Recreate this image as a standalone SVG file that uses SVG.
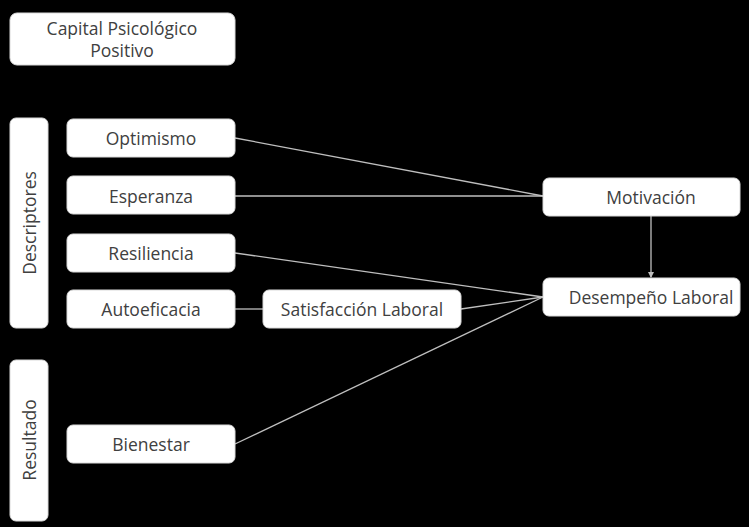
<svg xmlns="http://www.w3.org/2000/svg" width="749" height="527" viewBox="0 0 749 527">
<defs>
<style>
.box{fill:#fff;stroke:#d9d9d9;stroke-width:1}
.t{font-family:"Open Sans","Liberation Sans",Arial,sans-serif;font-size:17.5px;fill:#404040;text-anchor:middle;dominant-baseline:central}
.c{stroke:#bfbfbf;stroke-width:1.3;fill:none}
</style>
<marker id="ah" viewBox="0 0 6 6" refX="5" refY="3" markerWidth="5" markerHeight="5" orient="auto">
<path d="M0,0 L6,3 L0,6 z" fill="#bfbfbf"/>
</marker>
</defs>
<rect width="749" height="527" fill="#000"/>
<g id="connectors">
<line class="c" x1="235" y1="138" x2="543" y2="196"/>
<line class="c" x1="235" y1="196" x2="543" y2="196"/>
<line class="c" x1="235" y1="253" x2="543" y2="297"/>
<line class="c" x1="235" y1="309" x2="263" y2="309"/>
<line class="c" x1="461" y1="309" x2="543" y2="297"/>
<line class="c" x1="235" y1="444" x2="543" y2="297"/>
<line class="c" x1="651" y1="216" x2="651" y2="277" marker-end="url(#ah)"/>
</g>
<g id="capital"><rect class="box" x="10" y="13" width="225" height="52" rx="7"/><text class="t" x="122" y="28">Capital Psicológico</text><text class="t" x="122" y="50">Positivo</text></g>
<g id="descriptores"><rect class="box" x="10" y="118" width="38" height="210" rx="6"/><text class="t" transform="translate(29,223) rotate(-90)">Descriptores</text></g>
<g id="resultado"><rect class="box" x="10" y="360" width="38" height="161" rx="6"/><text class="t" transform="translate(29,440) rotate(-90)">Resultado</text></g>
<g id="optimismo"><rect class="box" x="67" y="119" width="168" height="38" rx="6"/><text class="t" x="151" y="138">Optimismo</text></g>
<g id="esperanza"><rect class="box" x="67" y="176" width="168" height="38" rx="6"/><text class="t" x="151" y="196">Esperanza</text></g>
<g id="resiliencia"><rect class="box" x="67" y="234" width="168" height="38" rx="6"/><text class="t" x="151" y="253">Resiliencia</text></g>
<g id="autoeficacia"><rect class="box" x="67" y="290" width="168" height="38" rx="6"/><text class="t" x="151" y="309">Autoeficacia</text></g>
<g id="bienestar"><rect class="box" x="67" y="425" width="168" height="38" rx="6"/><text class="t" x="151" y="444">Bienestar</text></g>
<g id="satisfaccion"><rect class="box" x="263" y="290" width="198" height="38" rx="6"/><text class="t" x="362" y="309">Satisfacción Laboral</text></g>
<g id="motivacion"><rect class="box" x="543" y="178" width="197" height="38" rx="6"/><text class="t" x="651" y="197">Motivación</text></g>
<g id="desempeno"><rect class="box" x="543" y="278" width="197" height="38" rx="6"/><text class="t" x="651" y="297">Desempeño Laboral</text></g>
</svg>
